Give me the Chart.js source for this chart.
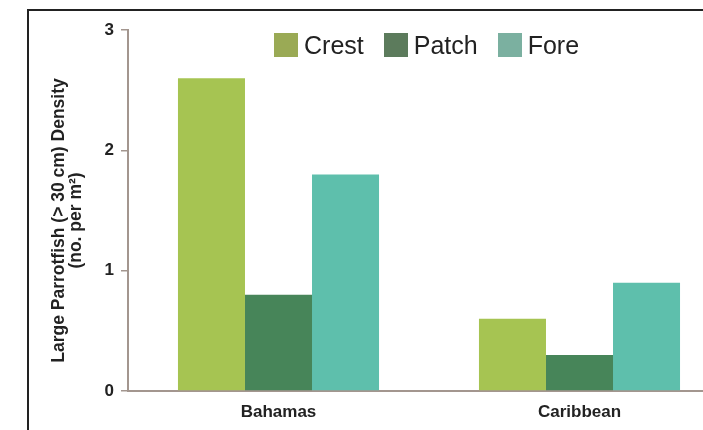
<!DOCTYPE html>
<html>
<head>
<meta charset="utf-8">
<script src="https://cdn.jsdelivr.net/npm/chart.js@4.4.1/dist/chart.umd.min.js"></script>
<style>
  html, body { margin: 0; padding: 0; background: #fff; overflow: hidden; }
  #wrap { position: relative; width: 703px; height: 430px; overflow: hidden; }
  #frame { position: absolute; left: 27px; top: 9px; width: 700px; height: 430px;
           border-left: 2px solid #222; border-top: 2px solid #222; }
  #box { position: absolute; left: 0; top: 0; width: 741px; height: 430px; }
  #legend { position: absolute; top: 33px; left: 274px; display: flex; line-height: 24px;
            font-family: "Liberation Sans", Arial, sans-serif; font-size: 25px; color: #222; }
  #legend span.item { display: flex; align-items: center; margin-right: 20px; }
  #legend span.sw { display: inline-block; width: 24px; height: 24px; margin-right: 6px; }
</style>
</head>
<body>
<div id="wrap">
  <div id="frame"></div>
  <div id="box"><canvas id="chart" width="741" height="430"></canvas></div>
  <div id="legend"></div>
</div>
<script>
// chart data
const regions = ['Bahamas', 'Caribbean'];
const seriesNames = ['Crest', 'Patch', 'Fore'];
const crestValues = [2.6, 0.6];
const patchValues = [0.8, 0.3];
const foreValues = [1.8, 0.9];
const yTicks = [0, 1, 2, 3];
const yTitle = ['Large Parrotfish (> 30 cm) Density', '(no. per m²)'];

const barColors = ['#a6c452', '#478559', '#5ebfac'];
const legendColors = ['#9aaa55', '#5c7b5c', '#7bb0a0'];

// legend built as html
const legend = document.getElementById('legend');
seriesNames.forEach(function(name, i) {
    const item = document.createElement('span');
    item.className = 'item';
    item.innerHTML = '<span class="sw" style="background:' + legendColors[i] + '"></span>' + name;
    legend.appendChild(item);
});

const axisColor = '#a3968f';
const fontFamily = '"Liberation Sans", Arial, sans-serif';

// two-line rotated y axis title, placed a bit lower than the plot middle like the original
const yTitlePlugin = {
    id: 'yTitle',
    afterDraw: function(chart) {
        const c = chart.ctx;
        c.save();
        c.translate(59, 220.5);
        c.rotate(-Math.PI / 2);
        c.font = 'bold 17.5px ' + fontFamily;
        c.fillStyle = '#222';
        c.textAlign = 'center';
        c.textBaseline = 'middle';
        c.fillText(yTitle[0], 0, 0);
        c.fillText(yTitle[1], 0, 17);
        c.restore();
    }
};

const ctx = document.getElementById('chart').getContext('2d');
new Chart(ctx, {
    type: 'bar',
    data: {
        labels: regions,
        datasets: [crestValues, patchValues, foreValues].map(function(vals, i) {
            return {
                label: seriesNames[i],
                data: vals,
                backgroundColor: barColors[i],
                borderWidth: 0,
                categoryPercentage: 0.668,
                barPercentage: 1.0
            };
        })
    },
    options: {
        responsive: false,
        animation: false,
        layout: { padding: { top: 30, right: 11, left: 0, bottom: 0 } },
        plugins: {
            legend: { display: false },
            tooltip: { enabled: false }
        },
        scales: {
            x: {
                grid: { display: false, drawTicks: false },
                border: { color: axisColor, width: 2 },
                ticks: {
                    color: '#222',
                    padding: 11,
                    font: { family: fontFamily, weight: 'bold', size: 17 }
                },
                afterFit: function(scale) { scale.height = 39; }
            },
            y: {
                min: 0,
                max: 3,
                afterBuildTicks: function(scale) {
                    scale.ticks = yTicks.map(function(v) { return { value: v }; });
                },
                grid: { drawOnChartArea: false, drawTicks: true, tickLength: 7, color: axisColor, lineWidth: 1.5 },
                border: { color: axisColor, width: 2 },
                ticks: {
                    color: '#222',
                    padding: 7,
                    font: { family: fontFamily, weight: 'bold', size: 17 }
                },
                afterFit: function(scale) { scale.width = 128; }
            }
        }
    },
    plugins: [yTitlePlugin]
});
</script>
</body>
</html>
